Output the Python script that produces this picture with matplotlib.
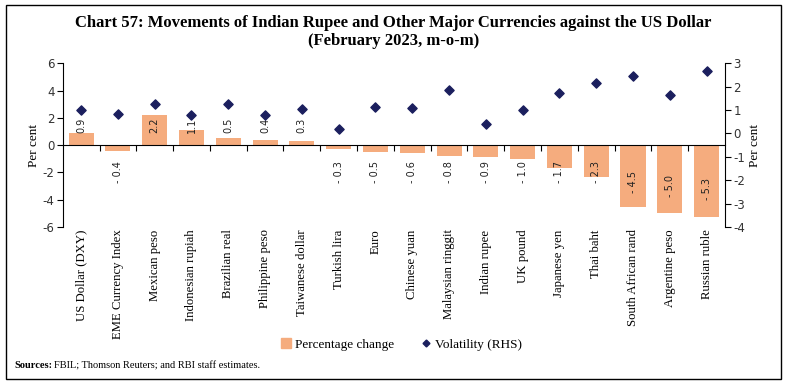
import numpy as np
import matplotlib
matplotlib.use('Agg')
import matplotlib.pyplot as plt
from matplotlib.patches import Rectangle
from matplotlib.lines import Line2D
from matplotlib.patches import Patch
from matplotlib.transforms import blended_transform_factory

currencies = ['US Dollar (DXY)', 'EME Currency Index', 'Mexican peso', 'Indonesian rupiah',
              'Brazilian real', 'Philippine peso', 'Taiwanese dollar', 'Turkish lira', 'Euro',
              'Chinese yuan', 'Malaysian ringgit', 'Indian rupee', 'UK pound', 'Japanese yen',
              'Thai baht', 'South African rand', 'Argentine peso', 'Russian ruble']
pct_change = [0.9, -0.4, 2.2, 1.1, 0.5, 0.4, 0.3, -0.3, -0.5, -0.6, -0.8, -0.9, -1.0,
              -1.7, -2.3, -4.5, -5.0, -5.3]
volatility = [1.0, 0.85, 1.28, 0.78, 1.28, 0.8, 1.03, 0.17, 1.13, 1.1, 1.87, 0.39, 1.0,
              1.75, 2.17, 2.46, 1.65, 2.67]

bar_col = '#F5AC7E'
dot_col = '#1B1F5E'
serif = 'Liberation Serif'
plt.rcParams['axes.unicode_minus'] = False

fig = plt.figure(figsize=(7.87, 3.86), dpi=100)
ax = fig.add_axes([0.0797, 0.412, 0.8415, 0.424])
x = np.arange(len(currencies))

ax.bar(x, pct_change, width=0.68, color=bar_col, zorder=2)
ax.set_xlim(-0.5, len(currencies) - 0.5)
ax.set_ylim(-6, 6)
ax.set_yticks(np.arange(-6, 7, 2))
ax.spines['top'].set_visible(False)
ax.spines['right'].set_visible(False)
ax.spines['bottom'].set_position(('data', 0))
ax.spines['bottom'].set_linewidth(0.8)
ax.set_xticks(x[1:] - 0.5)
ax.set_xticklabels([])
ax.tick_params(axis='x', direction='out', length=4, width=0.8)
ax.tick_params(axis='y', direction='out', length=4, width=0.8, labelsize=8.5, pad=2,
               labelcolor='#333333')
ax.set_ylabel('Per cent', family=serif, fontsize=9.5, labelpad=2)

# data labels
for xi, v in zip(x, pct_change):
    ypos = 1.45 if v > 0 else min(-2.0, 0.6 * v)
    txt = f'{v:.1f}' if v > 0 else f'- {abs(v):.1f}'
    ax.text(xi, ypos, txt, rotation=90, ha='center', va='center', fontsize=7,
            color='#222222', zorder=4)

# category labels
tr = blended_transform_factory(ax.transData, ax.transAxes)
for xi, name in zip(x, currencies):
    ax.text(xi, -0.015, name, rotation=90, ha='center', va='top', family=serif,
            fontsize=9.2, transform=tr)

ax2 = ax.twinx()
ax2.scatter(x, volatility, marker='D', s=22, color=dot_col, zorder=5)
ax2.set_ylim(-4, 3)
ax2.set_yticks(np.arange(-4, 4, 1))
ax2.spines['top'].set_visible(False)
ax2.spines['bottom'].set_visible(False)
ax2.spines['left'].set_visible(False)
ax2.tick_params(axis='y', direction='out', length=4, width=0.8, labelsize=8.5, pad=2,
                labelcolor='#333333')
ax2.set_ylabel('Per cent', family=serif, fontsize=9.5, labelpad=3)

fig.text(0.5, 0.940, 'Chart 57: Movements of Indian Rupee and Other Major Currencies against the US Dollar',
         ha='center', va='center', family=serif, fontsize=12, weight='bold')
fig.text(0.5, 0.893, '(February 2023, m-o-m)', ha='center', va='center', family=serif,
         fontsize=12, weight='bold')

handles = [Patch(color=bar_col, label='Percentage change'),
           Line2D([], [], marker='D', linestyle='none', color=dot_col, markersize=3.5,
                  label='Volatility (RHS)')]
fig.legend(handles=handles, loc='center', bbox_to_anchor=(0.51, 0.107), ncol=2, frameon=False,
           prop={'family': serif, 'size': 9.5}, handlelength=0.8, handleheight=0.8,
           handletextpad=0.3, columnspacing=2.0)

fig.text(0.018, 0.053, 'Sources:', family=serif, fontsize=7.5, weight='bold', va='center')
fig.text(0.069, 0.053, 'FBIL; Thomson Reuters; and RBI staff estimates.', family=serif,
         fontsize=7.5, va='center')

fig.add_artist(Rectangle((0.008, 0.017), 0.984, 0.97, transform=fig.transFigure,
                         fill=False, edgecolor='black', linewidth=1.0))

fig.savefig('out.png', dpi=100)
